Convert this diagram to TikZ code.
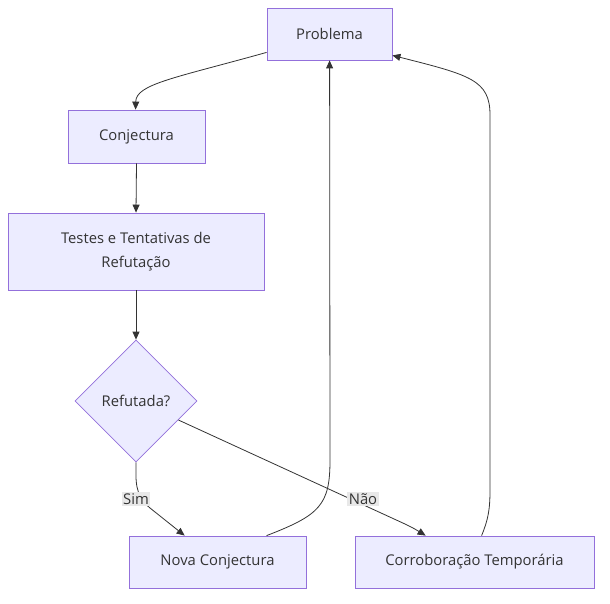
\documentclass[tikz,border=0pt]{standalone}
\usepackage{fontspec}
\setmainfont{Open Sans}
\usetikzlibrary{shapes.geometric,arrows.meta,calc}
\definecolor{nodefill}{HTML}{ECECFF}
\definecolor{nodedraw}{HTML}{9370DB}
\definecolor{edgecol}{HTML}{333333}
\definecolor{lblbg}{HTML}{E8E8E8}
\begin{document}
\begin{tikzpicture}[x=1pt,y=-1pt,
  every node/.style={font=\fontsize{14.8}{24}\selectfont, text=edgecol},
  box/.style={draw=nodedraw, fill=nodefill, line width=0.8pt, inner sep=0pt},
  dia/.style={diamond, draw=nodedraw, fill=nodefill, line width=0.8pt, inner sep=0pt, minimum width=122, minimum height=122},
  conn/.style={draw=edgecol, line width=0.8pt, -{Triangle[length=8pt,width=7pt]}},
  lbl/.style={fill=lblbg, inner sep=1.5pt, font=\fontsize{14.8}{16}\selectfont}]
\useasboundingbox (0,0) rectangle (610,604);
\node[box, minimum width=125, minimum height=52] (prob) at (329.5,34) {Problema};
\node[box, minimum width=137, minimum height=53] (conj) at (136.5,136.5) {Conjectura};
\node[box, minimum width=256, minimum height=77, align=center] (test) at (136,251.5) {Testes e Tentativas de\\Refutação};
\node[dia] (ref) at (136,401) {Refutada?};
\node[box, minimum width=177, minimum height=52] (nova) at (217.5,562) {Nova Conjectura};
\node[box, minimum width=239, minimum height=52] (corr) at (474.5,562) {Corroboração Temporária};

\path[conn] ($(prob.south west)+(0,-8)$) .. controls (175,78) and (136,84) .. ($(conj.north west)+(68,0)$);
\path[conn] (conj.south) -- (test.north);
\path[conn] (test.south) -- (ref.north);
\path[conn] (ref.south) .. controls (136,480) and (134,495) .. (150,508) -- ($(nova.north west)+(56,0)$);
\path[conn] (ref.east) ++(-19,19) coordinate (re) (re) -- (405,524) .. controls (415,529) .. ($(corr.north west)+(71,0)$);
\path[conn] ($(nova.north west)+(138,0)$) .. controls (320,515) and (330,505) .. (330,460) -- ($(prob.south west)+(63,0)$);
\path[conn] ($(corr.north west)+(127,0)$) .. controls (488,520) and (490,510) .. (490,490) -- (490,115) .. controls (490,80) and (470,75) .. ($(prob.south east)+(0,-5)$);

\node[lbl] (lsim) at (136,499) {Sim};
\node[lbl] (lnao) at (363,499) {Não};
\end{tikzpicture}
\end{document}
